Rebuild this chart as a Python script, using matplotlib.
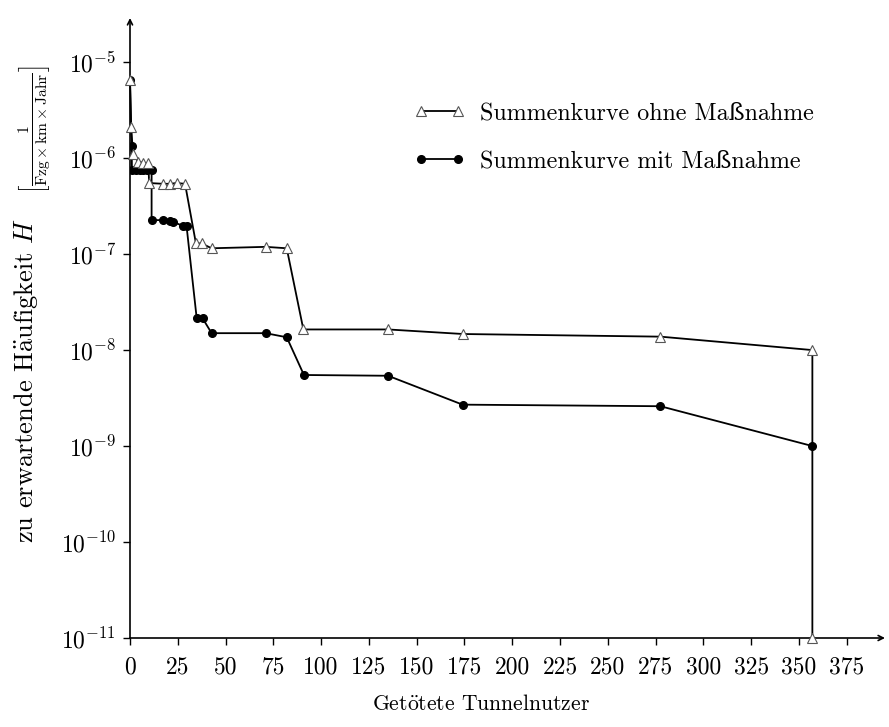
import matplotlib
matplotlib.use("Agg")
import matplotlib.pyplot as plt
from matplotlib.ticker import NullLocator, FixedLocator

plt.rcParams["font.family"] = ["cmr10", "DejaVu Serif"]
plt.rcParams["mathtext.fontset"] = "cm"
plt.rcParams["axes.formatter.use_mathtext"] = True

# Summenkurve ohne Massnahme
x_ohne = [0, 0.5, 1.7, 4.3, 7, 9.6, 10, 17.4, 20.9, 24.4, 28.8, 34.5, 37.5, 42.7,
          71, 82, 90.7, 135, 174.3, 277.5, 357, 357]
h_ohne = [6.5e-6, 2.1e-6, 1.1e-6, 9.1e-7, 9.0e-7, 8.8e-7, 5.5e-7, 5.4e-7, 5.4e-7,
          5.5e-7, 5.4e-7, 1.29e-7, 1.29e-7, 1.15e-7,
          1.19e-7, 1.15e-7, 1.64e-8, 1.64e-8, 1.47e-8, 1.38e-8, 1.0e-8, 1.0e-11]

# Summenkurve mit Massnahme
x_mit = [0, 0.9, 1, 3, 5, 7, 9, 11.3, 11.3, 17.4, 20.9, 22.6, 27.9, 29.6,
         34.9, 38, 42.7, 71, 82, 91, 135, 174, 277.5, 357]
h_mit = [6.5e-6, 1.35e-6, 7.6e-7, 7.6e-7, 7.6e-7, 7.6e-7, 7.6e-7, 7.5e-7, 2.26e-7,
         2.26e-7, 2.2e-7, 2.15e-7, 1.97e-7, 1.95e-7,
         2.14e-8, 2.14e-8, 1.5e-8, 1.5e-8, 1.36e-8, 5.5e-9, 5.4e-9, 2.7e-9, 2.6e-9, 1.0e-9]

xticks = list(range(0, 400, 25))
yticks = [1e-11, 1e-10, 1e-9, 1e-8, 1e-7, 1e-6, 1e-5]

fs = 17

fig = plt.figure(figsize=(8.89, 7.27), dpi=100)
ax = fig.add_axes([130 / 889, 89 / 727, 755 / 889, 620 / 727])

ax.plot(x_mit, h_mit, color="black", lw=1.3, marker="o", ms=5.5,
        mfc="black", mec="black", label="Summenkurve mit Maßnahme", zorder=3)
ax.plot(x_ohne, h_ohne, color="black", lw=1.3, marker="^", ms=6.5,
        mfc="white", mec="#555555", mew=0.8, label="Summenkurve ohne Maßnahme",
        zorder=4, clip_on=False)

ax.set_yscale("log")
ax.set_xlim(0, 395)
ax.set_ylim(1e-11, 10 ** -4.54)
ax.xaxis.set_major_locator(FixedLocator(xticks))
ax.set_xticklabels([str(t) for t in xticks])
ax.yaxis.set_major_locator(FixedLocator(yticks))
ax.yaxis.set_minor_locator(NullLocator())
ax.tick_params(axis="both", which="major", direction="out", length=5,
               width=1, labelsize=fs, pad=5)
ax.tick_params(axis="x", pad=8)

for s in ["top", "right", "left", "bottom"]:
    ax.spines[s].set_visible(False)
ax.annotate("", xy=(1, 0), xytext=(0, 0), xycoords="axes fraction",
            arrowprops=dict(arrowstyle="->", lw=1.2, color="black",
                            shrinkA=0, shrinkB=0, mutation_scale=9))
ax.annotate("", xy=(0, 1), xytext=(0, 0), xycoords="axes fraction",
            arrowprops=dict(arrowstyle="->", lw=1.2, color="black",
                            shrinkA=0, shrinkB=0, mutation_scale=9))

ax.set_xlabel(r"Get$\ddot{\mathrm{o}}$tete Tunnelnutzer", fontsize=15.6)
ax.xaxis.set_label_coords(0.465, -0.09)

# y label: text and unit bracket as two pieces (unit is set smaller)
fig.text(26 / 889, 1 - 218 / 727, r"zu erwartende H$\ddot{\mathrm{a}}$ufigkeit $H$",
         rotation=90, ha="center", va="top", fontsize=19)
fig.text(35 / 889, 1 - 194 / 727,
         r"$\left[\frac{1}{\mathrm{Fzg}\times\mathrm{km}\times\mathrm{Jahr}}\right]$",
         rotation=90, ha="center", va="bottom", fontsize=16)

handles, labels = ax.get_legend_handles_labels()
ax.legend(handles[::-1], labels[::-1], loc="upper left",
          bbox_to_anchor=(414 / 889, 1 - 102 / 727), bbox_transform=fig.transFigure,
          frameon=False, numpoints=2, handlelength=2.15, handletextpad=0.6,
          labelspacing=1.1, borderpad=0, borderaxespad=0, fontsize=17.3)

fig.savefig("out.png", dpi=100)
